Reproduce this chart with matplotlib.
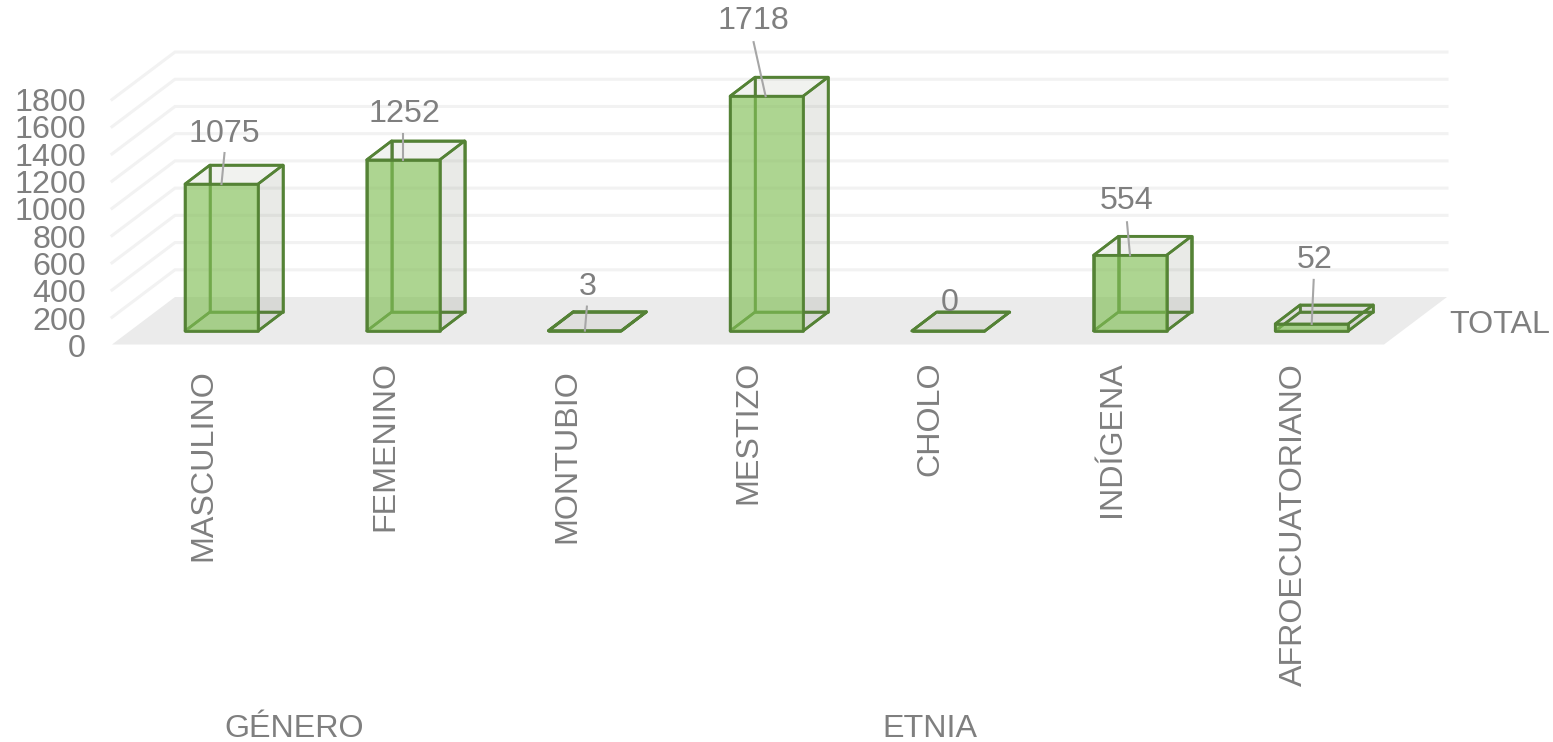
import matplotlib
matplotlib.use('Agg')
import matplotlib.pyplot as plt
from matplotlib.patches import Polygon

plt.rcParams['font.family'] = ['Liberation Sans', 'DejaVu Sans']

categories = ["MASCULINO", "FEMENINO", "MONTUBIO", "MESTIZO", "CHOLO", "INDÍGENA", "AFROECUATORIANO"]
total = [1075, 1252, 3, 1718, 0, 554, 52]
y_ticks = [0, 200, 400, 600, 800, 1000, 1200, 1400, 1600, 1800]
groups = ["GÉNERO", "ETNIA"]
series_name = "TOTAL"

# ── Fake 3D projection, everything in image pixels ───────────────────
W, H = 1553, 742
SCALE = 0.1367       # px per unit, bars
GRID_SCALE = 0.1361  # px per unit, walls
BAR_W = 73
STEP = 181.7
X0 = 221.5           # centre of first bar
BASE = 331           # front bottom of the bars
DX, DY = 25, -19     # bar depth

GREEN = "#548235"
TXT = "#7F7F7F"
FS = 23.2

fig = plt.figure(figsize=(W / 100, H / 100), dpi=100)
ax = fig.add_axes([0, 0, 1, 1])
ax.set_xlim(0, W)
ax.set_ylim(H, 0)
ax.axis("off")

# floor
ax.add_patch(Polygon([(112, 344.5), (175, 297), (1447, 297), (1384, 344.5)],
                     closed=True, fc="#EBEBEB", ec="none", zorder=1))

# grid lines, side wall + back wall
for t in y_ticks[1:]:
    off = t * GRID_SCALE
    ax.plot([112, 175, 1447], [344.5 - off, 297 - off, 297 - off],
            color="#F2F2F2", lw=2.2, solid_joinstyle="miter", zorder=1)

for t in y_ticks:
    ax.text(86, 345.5 - t * SCALE, str(t), ha="right", va="center_baseline",
            fontsize=FS, color=TXT)


def face(pts, fc, ec=GREEN, z=2):
    ax.add_patch(Polygon(pts, closed=True, fc=fc, ec=ec, lw=1.9,
                         joinstyle="round", zorder=z))


# label centre and leader line, relative to the bar top
label_dx = [3, 1, 3, -13, 1, -3, 3]
label_dy = [-50, -46, -44, -75, -28, -54, -64]
lead_top_dx = [3, 0, 2, -13, None, -3, 2]
lead_top_dy = [-31, -26, -24, -54, None, -33, -44]
lead_end_dx = [0, 0, 0, -1, 0, 0, 0]
cat_top = [370, 362, 370, 362, 362, 362, 364]

for i, (name, v) in enumerate(zip(categories, total)):
    cx = X0 + i * STEP
    l, r = cx - BAR_W / 2, cx + BAR_W / 2
    top = BASE - v * SCALE

    # back faces first, the front one goes over them
    back_ec = (0.33, 0.51, 0.21, 0.95)
    face([(l + DX, BASE + DY), (r + DX, BASE + DY), (r + DX, top + DY), (l + DX, top + DY)],
         "none", ec=back_ec, z=3)
    face([(l, BASE), (r, BASE), (r + DX, BASE + DY), (l + DX, BASE + DY)],
         "none", z=3)
    face([(l, BASE), (l + DX, BASE + DY), (l + DX, top + DY), (l, top)],
         "none", ec=back_ec, z=3)
    face([(r, BASE), (r + DX, BASE + DY), (r + DX, top + DY), (r, top)],
         (0.40, 0.44, 0.34, 0.14), z=4)
    face([(l, top), (r, top), (r + DX, top + DY), (l + DX, top + DY)],
         (0.40, 0.44, 0.34, 0.09), z=4)
    face([(l, BASE), (r, BASE), (r, top), (l, top)],
         (0.51, 0.75, 0.34, 0.65), z=5)

    if lead_top_dx[i] is not None:
        ax.plot([cx + lead_top_dx[i], cx + lead_end_dx[i]],
                [top + lead_top_dy[i], top], color="#A6A6A6", lw=1.5, zorder=6)
    ax.text(cx + label_dx[i], top + label_dy[i], str(v), ha="center", va="center",
            fontsize=FS, color=TXT, zorder=7)

    ax.text(cx - 18, cat_top[i] - 1, name, rotation=90, ha="center", va="top",
            fontsize=FS, color=TXT)

ax.text(294, 729, groups[0], ha="center", va="center", fontsize=FS, color=TXT)
ax.text(930, 729, groups[1], ha="center", va="center", fontsize=FS, color=TXT)
ax.text(1449, 325, series_name, ha="left", va="center", fontsize=FS, color=TXT)

fig.savefig("out.png", dpi=100)
